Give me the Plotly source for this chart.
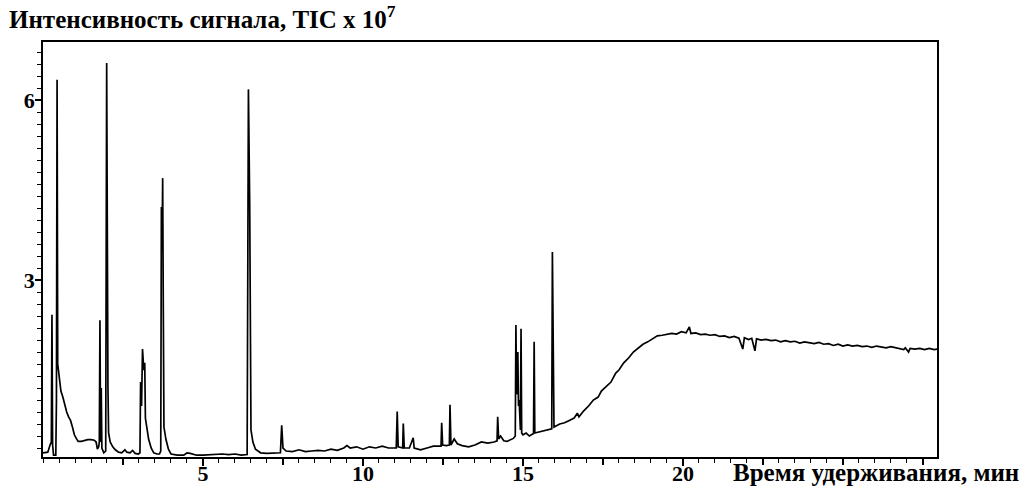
import plotly.graph_objects as go

# Retention time, min
time_min = [
    0.00, 0.15, 0.22, 0.26, 0.28, 0.30, 0.33, 0.40, 0.42, 0.44, 0.46, 0.48, 0.52, 0.56,
    0.62, 0.68, 0.74, 0.80, 0.86, 0.92, 0.98, 1.04, 1.10, 1.20, 1.30, 1.40, 1.50, 1.60,
    1.66, 1.70, 1.74, 1.76, 1.78, 1.80, 1.82, 1.84, 1.90, 1.96, 1.99, 2.01, 2.03, 2.05,
    2.10, 2.18, 2.26, 2.36, 2.46, 2.56, 2.62, 2.72, 2.80, 2.88, 2.98, 3.03, 3.05, 3.08,
    3.11, 3.15, 3.18, 3.20, 3.24, 3.30, 3.38, 3.46, 3.56, 3.64, 3.68, 3.70, 3.72, 3.74,
    3.76, 3.78, 3.84, 3.92, 4.00, 4.20, 4.40, 4.50, 4.60, 4.80, 5.00, 5.20, 5.40, 5.60,
    5.80, 6.00, 6.20, 6.38, 6.42, 6.46, 6.50, 6.56, 6.64, 6.80, 7.00, 7.20, 7.42, 7.46,
    7.50, 7.60, 7.80, 8.00, 8.20, 8.40, 8.60, 8.80, 9.00, 9.20, 9.40, 9.50, 9.60, 9.80,
    10.00, 10.20, 10.40, 10.60, 10.80, 11.04, 11.07, 11.10, 11.24, 11.26, 11.29, 11.45,
    11.57, 11.60, 11.80, 12.00, 12.20, 12.44, 12.46, 12.49, 12.60, 12.70, 12.72, 12.75,
    12.85, 12.95, 13.10, 13.30, 13.50, 13.70, 13.90, 14.10, 14.19, 14.21, 14.24, 14.30,
    14.40, 14.50, 14.60, 14.70, 14.76, 14.78, 14.80, 14.82, 14.84, 14.86, 14.88, 14.92,
    14.94, 14.96, 15.00, 15.10, 15.20, 15.33, 15.35, 15.37, 15.50, 15.70, 15.90, 15.92,
    15.95, 15.97, 16.15, 16.30, 16.45, 16.60, 16.70, 16.75, 16.90, 17.05, 17.20, 17.35,
    17.45, 17.60, 17.75, 17.90, 18.00, 18.15, 18.30, 18.45, 18.60, 18.75, 18.90, 19.05,
    19.20, 19.35, 19.50, 19.65, 19.80, 19.95, 20.10, 20.20, 20.25, 20.40, 20.55, 20.70,
    20.85, 21.00, 21.15, 21.30, 21.45, 21.60, 21.75, 21.87, 21.92, 22.05, 22.15, 22.25,
    22.30, 22.45, 22.60, 22.75, 22.90, 23.05, 23.20, 23.35, 23.50, 23.65, 23.80, 23.95,
    24.10, 24.25, 24.40, 24.55, 24.70, 24.85, 25.00, 25.15, 25.30, 25.45, 25.60, 25.75,
    25.90, 26.05, 26.20, 26.35, 26.50, 26.65, 26.80, 26.90, 26.95, 27.05, 27.10, 27.25,
    27.40, 27.55, 27.70, 27.85, 27.95,
]

# TIC signal, x 10^7
tic_signal = [
    0.12, 0.13, 0.25, 0.30, 2.42, 0.25, 0.08, 0.08, 1.00, 6.34, 1.60, 1.50, 1.30, 1.15,
    1.05, 0.90, 0.80, 0.72, 0.66, 0.55, 0.42, 0.36, 0.31, 0.31, 0.33, 0.34, 0.34, 0.33,
    0.30, 0.18, 0.22, 0.30, 2.33, 0.30, 1.20, 0.20, 0.12, 0.15, 6.62, 1.20, 1.20, 0.45,
    0.30, 0.22, 0.17, 0.13, 0.12, 0.17, 0.13, 0.12, 0.16, 0.11, 0.10, 0.12, 1.30, 0.90,
    1.85, 1.50, 1.62, 0.70, 0.55, 0.35, 0.20, 0.12, 0.10, 0.10, 0.15, 4.22, 3.50, 4.70,
    2.50, 0.55, 0.35, 0.18, 0.10, 0.08, 0.08, 0.12, 0.11, 0.08, 0.08, 0.09, 0.10, 0.10,
    0.09, 0.10, 0.08, 0.09, 6.18, 4.28, 0.50, 0.30, 0.18, 0.12, 0.11, 0.11, 0.12, 0.58,
    0.20, 0.15, 0.14, 0.17, 0.14, 0.15, 0.16, 0.15, 0.18, 0.16, 0.20, 0.24, 0.20, 0.22,
    0.18, 0.22, 0.20, 0.23, 0.20, 0.20, 0.81, 0.22, 0.20, 0.61, 0.20, 0.20,
    0.37, 0.20, 0.17, 0.20, 0.23, 0.23, 0.62, 0.25, 0.24, 0.25, 0.92, 0.25,
    0.35, 0.27, 0.24, 0.22, 0.25, 0.30, 0.28, 0.30, 0.32, 0.72, 0.35, 0.40,
    0.32, 0.31, 0.33, 0.36, 0.40, 2.25, 1.10, 1.12, 1.80, 0.90, 1.00, 0.50,
    2.19, 0.45, 0.42, 0.45, 0.40, 0.44, 1.97, 0.45, 0.47, 0.50, 0.52, 3.47,
    1.25, 0.55, 0.60, 0.62, 0.66, 0.70, 0.78, 0.72, 0.82, 0.90, 1.00, 1.05,
    1.15, 1.22, 1.30, 1.45, 1.50, 1.62, 1.70, 1.80, 1.86, 1.93, 1.97, 2.02,
    2.07, 2.08, 2.10, 2.11, 2.10, 2.14, 2.12, 2.22, 2.11, 2.12, 2.09, 2.10,
    2.08, 2.09, 2.06, 2.07, 2.04, 2.06, 2.03, 1.85, 2.04, 2.01, 2.03, 1.82,
    2.02, 2.00, 2.01, 1.99, 2.00, 1.97, 1.99, 1.97, 1.98, 1.95, 1.97, 1.96,
    1.94, 1.96, 1.93, 1.94, 1.91, 1.93, 1.90, 1.92, 1.90, 1.91, 1.89, 1.90,
    1.88, 1.90, 1.89, 1.87, 1.89, 1.87, 1.86, 1.84, 1.87, 1.80, 1.86, 1.85,
    1.86, 1.84, 1.86, 1.84, 1.85,
]

x_label_ticks = [5, 10, 15, 20]
x_labels = ["<b>5</b>", "<b>10</b>", "<b>15</b>", "<b>20</b>"]
x_unlabeled_major_ticks = [2.5, 7.5, 12.5, 17.5, 22.5, 25, 27.5]
y_major_ticks = [3, 6]
y_major_labels = ["<b>3</b>", "<b>6</b>"]

FONT = "Liberation Serif"
X_RANGE = [0, 27.94]

fig = go.Figure()
fig.add_trace(go.Scatter(
    x=time_min, y=tic_signal, mode="lines",
    line=dict(color="black", width=1.7),
    showlegend=False, hoverinfo="skip",
))
# empty helper trace so the secondary tick-only axis is drawn
fig.add_trace(go.Scatter(x=[], y=[], xaxis="x2", mode="lines", showlegend=False, hoverinfo="skip"))

fig.update_layout(
    width=1025, height=489,
    margin=dict(l=43, r=88, t=42, b=32, autoexpand=False),
    paper_bgcolor="white", plot_bgcolor="white",
    font=dict(family=FONT, color="black", size=20),
    xaxis2=dict(
        overlaying="x", anchor="y", side="bottom", range=X_RANGE,
        showgrid=False, zeroline=False, showline=False, automargin=False,
        tickmode="array", tickvals=x_unlabeled_major_ticks, showticklabels=False,
        ticks="outside", ticklen=7, tickwidth=1.5, tickcolor="black",
    ),
)

fig.layout.xaxis.update(
    range=X_RANGE, showgrid=False, zeroline=False, automargin=False,
    showline=True, linecolor="black", linewidth=1.5, mirror=True,
    tickmode="array", tickvals=x_label_ticks, ticktext=x_labels,
    ticks="outside", ticklen=7, tickwidth=1.5, tickcolor="black",
    ticklabelstandoff=-11,
    tickfont=dict(family=FONT, size=22, color="black"),
    minor=dict(tick0=0, dtick=0.5, ticks="outside", ticklen=4, tickwidth=1.2, tickcolor="black", showgrid=False),
)
fig.update_yaxes(
    range=[0.05, 6.97], showgrid=False, zeroline=False, automargin=False,
    showline=True, linecolor="black", linewidth=1.5, mirror=True,
    tickmode="array", tickvals=y_major_ticks, ticktext=y_major_labels,
    ticks="outside", ticklen=6, tickwidth=1.5, tickcolor="black",
    ticklabelstandoff=-4,
    tickfont=dict(family=FONT, size=22, color="black"),
    minor=dict(tick0=0, dtick=0.2, ticks="outside", ticklen=4, tickwidth=1.2, tickcolor="black", showgrid=False),
)

fig.add_annotation(
    text="<b>Интенсивность сигнала, TIC x 10<sup>7</sup></b>",
    xref="paper", yref="paper", x=(7 - 43) / 894, y=(457 - 17) / 415,
    xanchor="left", yanchor="middle", showarrow=False,
    font=dict(family=FONT, size=25, color="black"),
)
fig.add_annotation(
    text="<b>Время удерживания, мин</b>",
    xref="paper", yref="paper", x=(731 - 43) / 894, y=(457 - 472) / 415,
    xanchor="left", yanchor="middle", showarrow=False,
    font=dict(family=FONT, size=25, color="black"),
)

fig.write_html("out.html")
